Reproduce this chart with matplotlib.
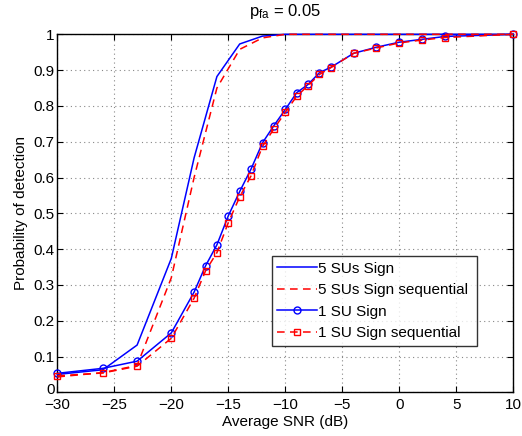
import matplotlib
matplotlib.use("Agg")
import matplotlib.pyplot as plt
import matplotlib.transforms as mtransforms

plt.rcParams['font.family'] = ['Liberation Sans', 'DejaVu Sans']
plt.rcParams['mathtext.fontset'] = 'custom'
plt.rcParams['mathtext.rm'] = 'Liberation Sans'
plt.rcParams['mathtext.it'] = 'Liberation Sans'

# 5 SUs curves
snr_5 = [-30, -26, -23, -20, -18, -16, -14, -12, -10, -8, -6, -4, -2, 0, 2, 4, 10]
pd_5_sign = [0.050, 0.063, 0.132, 0.374, 0.655, 0.882, 0.973, 0.995, 1.0, 1.0, 1.0, 1.0, 1.0, 1.0, 1.0, 1.0, 1.0]
pd_5_seq = [0.043, 0.055, 0.075, 0.320, 0.600, 0.850, 0.958, 0.990, 1.0, 1.0, 1.0, 1.0, 1.0, 1.0, 1.0, 1.0, 1.0]

# 1 SU curves
snr_1 = [-30, -26, -23, -20, -18, -17, -16, -15, -14, -13, -12, -11, -10, -9, -8, -7, -6, -4, -2, 0, 2, 4, 10]
pd_1_sign = [0.053, 0.067, 0.087, 0.166, 0.280, 0.353, 0.412, 0.493, 0.561, 0.624, 0.697, 0.745, 0.790,
             0.837, 0.860, 0.893, 0.908, 0.947, 0.964, 0.978, 0.986, 0.994, 1.0]
pd_1_seq = [0.046, 0.054, 0.073, 0.151, 0.263, 0.339, 0.390, 0.474, 0.546, 0.605, 0.687, 0.736, 0.782,
            0.827, 0.857, 0.888, 0.907, 0.947, 0.962, 0.976, 0.984, 0.991, 1.0]

xticks = [-30, -25, -20, -15, -10, -5, 0, 5, 10]
yticks = [0, 0.1, 0.2, 0.3, 0.4, 0.5, 0.6, 0.7, 0.8, 0.9, 1]
ytick_labels = ['0', '0.1', '0.2', '0.3', '0.4', '0.5', '0.6', '0.7', '0.8', '0.9', '1']

fig = plt.figure(figsize=(5.22, 4.36), dpi=100)
ax = fig.add_axes([0.1098, 0.1002, 0.8735, 0.8211])

lw = 1.1
ax.plot(snr_5, pd_5_sign, '-', color='#0000ff', lw=lw, label='5 SUs Sign', clip_on=False, zorder=3)
ax.plot(snr_5, pd_5_seq, '--', color='#ff0000', lw=lw, dashes=(5, 3.5), label='5 SUs Sign sequential', clip_on=False, zorder=4)
ax.plot(snr_1, pd_1_sign, '-o', color='#0000ff', lw=lw, ms=5, mfc='none', mew=1.0,
        label='1 SU Sign', clip_on=False, zorder=3)
ax.plot(snr_1, pd_1_seq, '--s', color='#ff0000', lw=lw, ms=4, mfc='none', mew=1.0, dashes=(5, 3.5),
        label='1 SU Sign sequential', clip_on=False, zorder=4)

ax.set_xlim(-30, 10)
ax.set_ylim(0, 1)
ax.set_xticks(xticks)
ax.set_xticklabels([('\u2212' + str(-t)) if t < 0 else str(t) for t in xticks])
ax.set_yticks(yticks)
ax.set_yticklabels(ytick_labels)
ax.tick_params(direction='in', top=True, right=True, labelsize=11, length=4, width=0.8, pad=2)
ax.tick_params(axis='x', pad=4)
ax.grid(True, linestyle=(0, (1, 3)), color='#888888', linewidth=0.8)
for s in ax.spines.values():
    s.set_linewidth(1.0)

# nudge the "0" y tick label up slightly so it does not collide with the x labels
zero_lbl = ax.get_yticklabels()[0]
zero_lbl.set_transform(zero_lbl.get_transform() +
                       mtransforms.ScaledTranslation(0, 3 / 72, fig.dpi_scale_trans))

ax.set_xlabel('Average SNR (dB)', fontsize=11, labelpad=2)
ax.set_ylabel('Probability of detection', fontsize=11, labelpad=4)
ax.set_title(r'$\mathregular{p_{fa}}$ = 0.05', fontsize=12, pad=13)

leg = ax.legend(loc='lower left', bbox_to_anchor=(0.47, 0.13, 0.451, 0.249), mode='expand',
                fontsize=11, frameon=True, fancybox=False, edgecolor='black',
                handlelength=2.6, handletextpad=0.1, borderpad=0.35, labelspacing=0.5,
                borderaxespad=0)
leg.get_frame().set_linewidth(1.0)

fig.savefig('out.png', dpi=100)
